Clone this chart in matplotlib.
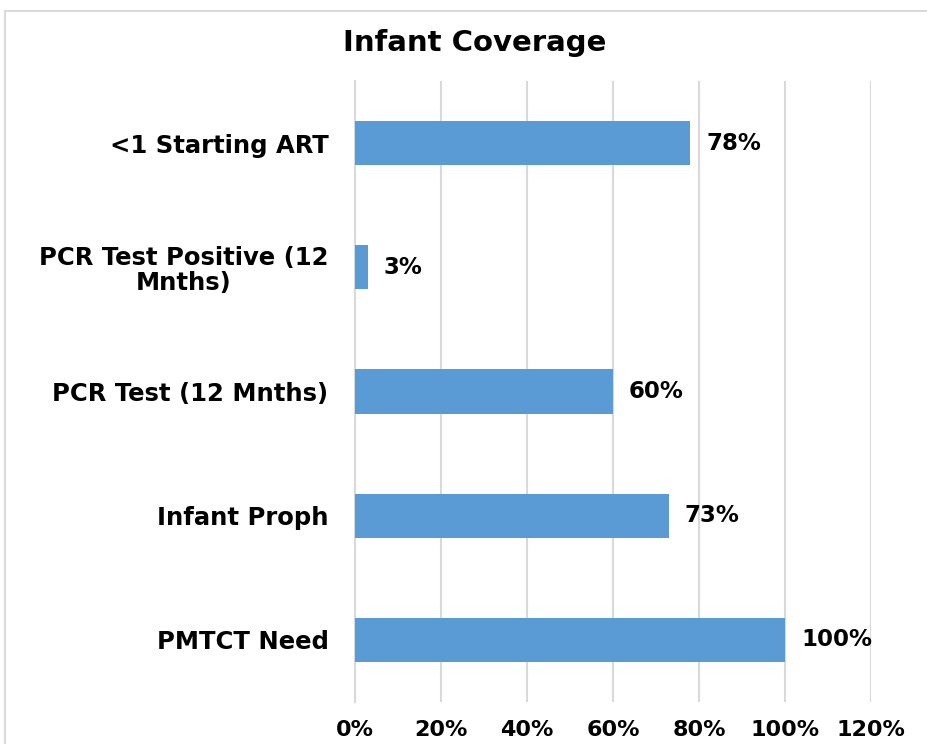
import matplotlib
matplotlib.use("Agg")
import matplotlib.pyplot as plt
from matplotlib.patches import Rectangle

categories = ["PMTCT Need", "Infant Proph", "PCR Test (12 Mnths)",
              "PCR Test Positive (12\nMnths)", "<1 Starting ART"]
values = [100, 73, 60, 3, 78]
xticks = [0, 20, 40, 60, 80, 100, 120]
xtick_labels = ["0%", "20%", "40%", "60%", "80%", "100%", "120%"]

plt.rcParams['font.family'] = ['DejaVu Sans']
plt.rcParams['font.weight'] = 'bold'

fig = plt.figure(figsize=(9.28, 7.44), dpi=100)
ax = fig.add_axes([355/928, 1-702/744, (871-355)/928, (702-81)/744])

ypos = list(range(len(categories)))
ax.barh(ypos, values, height=0.355, color="#5B9BD5", zorder=3)
for y, v in zip(ypos, values):
    ax.annotate(f"{v}%", (v, y), xytext=(11.5, 0), textcoords="offset points",
                va="center", ha="left", fontsize=16.5, fontweight="bold",
                color="#000000")

ax.set_xlim(0, 120)
ax.set_ylim(-0.5, 4.5)
ax.set_xticks(xticks)
ax.set_xticklabels(xtick_labels, fontsize=16, fontweight="bold")
ax.set_yticks(ypos)
ax.set_yticklabels(categories, fontsize=17.5, fontweight="bold")
for lbl in ax.get_yticklabels():
    lbl.set_multialignment("center")
    lbl.set_linespacing(1.05)
ax.tick_params(axis="both", length=0)
ax.tick_params(axis="y", pad=19)
ax.tick_params(axis="x", pad=13)
ax.grid(axis="x", color="#D9D9D9", linewidth=1.5, zorder=0)
for s in ["top", "right", "bottom"]:
    ax.spines[s].set_visible(False)
ax.spines["left"].set_color("#D9D9D9")
ax.spines["left"].set_linewidth(1.5)

fig.text(474.5/928, 1-43/744, "Infant Coverage", ha="center", va="center",
         fontsize=21, fontweight="bold")

fig.patches.append(Rectangle((5/928, -0.1), 1.2, 1-11/744+0.1,
                             transform=fig.transFigure, fill=False,
                             edgecolor="#D9D9D9", linewidth=1.5))

fig.savefig("out.png", dpi=100)
